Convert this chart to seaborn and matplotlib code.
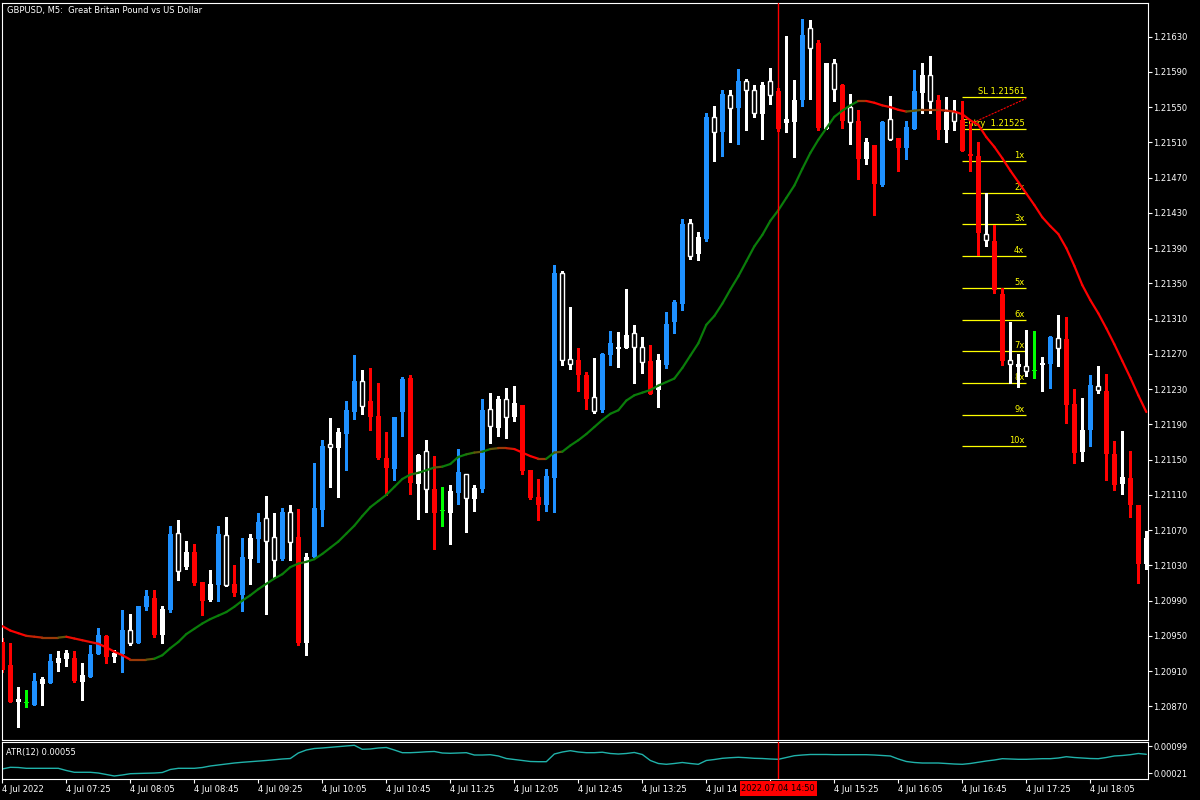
import numpy as np
import pandas as pd
import matplotlib
matplotlib.use("Agg")
import matplotlib.pyplot as plt
import matplotlib.transforms as mtransforms
import seaborn as sns
from matplotlib.collections import LineCollection
from matplotlib.patches import Rectangle
from matplotlib.colors import to_rgb

# ------------------------------------------------------------------ data
title = "GBPUSD, M5:  Great Britan Pound vs US Dollar"

# candle colour class: R red, B blue, W white filled, H white hollow, G green doji
kinds = list("RRWGBWBWWR" "WBBRWBHBBR" "WBHWRRWBHR" "BWBHHBHRWB" "BHWBBHRRRB"
             "BRWHRGWBHW" "BHWHWRRRBB" "HHRRHBBWWH" "HRWBBBHWBH" "BHBHHWHRWW"
             "BHRWHRHRWR" "BHRBBWHRWH" "RRRHRRHWHG" "WBHRRWBHRR" "WRRW")

open_ = [1.20943, 1.20917, 1.20875, 1.20874, 1.20872, 1.20895, 1.20897, 1.20919, 1.20924, 1.20925,
         1.20898, 1.20903, 1.20929, 1.20950, 1.20926, 1.20929, 1.20942, 1.20942, 1.20983, 1.20993,
         1.20951, 1.20979, 1.21024, 1.21028, 1.21045, 1.21011, 1.20991, 1.21008, 1.21008, 1.21009,
         1.20996, 1.21037, 1.21060, 1.21058, 1.21036, 1.21037, 1.21057, 1.21062, 1.20942, 1.21039,
         1.21093, 1.21164, 1.21163, 1.21179, 1.21204, 1.21211, 1.21217, 1.21200, 1.21152, 1.21139,
         1.21204, 1.21243, 1.21122, 1.21117, 1.21117, 1.21092, 1.21089, 1.21112, 1.21107, 1.21105,
         1.21117, 1.21188, 1.21186, 1.21198, 1.21198, 1.21212, 1.21138, 1.21108, 1.21099, 1.21129,
         1.21263, 1.21259, 1.21263, 1.21246, 1.21205, 1.21206, 1.21269, 1.21276, 1.21277, 1.21278,
         1.21261, 1.21262, 1.21229, 1.21257, 1.21306, 1.21327, 1.21381, 1.21383, 1.21400, 1.21522,
         1.21522, 1.21549, 1.21549, 1.21570, 1.21543, 1.21542, 1.21564, 1.21568, 1.21532, 1.21533,
         1.21558, 1.21617, 1.21623, 1.21525, 1.21571, 1.21575, 1.21533, 1.21534, 1.21491, 1.21507,
         1.21462, 1.21514, 1.21515, 1.21504, 1.21525, 1.21566, 1.21557, 1.21558, 1.21524, 1.21534,
         1.21535, 1.21497, 1.21495, 1.21399, 1.21398, 1.21338, 1.21259, 1.21255, 1.21251, 1.21251,
         1.21257, 1.21258, 1.21277, 1.21287, 1.21213, 1.21159, 1.21184, 1.21229, 1.21228, 1.21156,
         1.21122, 1.21129, 1.21099, 1.21032]

close = [1.20911, 1.20875, 1.20878, 1.20874, 1.20899, 1.20901, 1.20922, 1.20925, 1.20931, 1.20899,
         1.20905, 1.20929, 1.20951, 1.20926, 1.20931, 1.20957, 1.20957, 1.20984, 1.20995, 1.20951,
         1.20981, 1.21066, 1.21067, 1.21045, 1.21010, 1.20989, 1.21009, 1.21066, 1.21065, 1.20999,
         1.21040, 1.21061, 1.21079, 1.21084, 1.21062, 1.21091, 1.21091, 1.20942, 1.21040, 1.21095,
         1.21166, 1.21168, 1.21181, 1.21206, 1.21239, 1.21239, 1.21198, 1.21152, 1.21141, 1.21198,
         1.21242, 1.21124, 1.21155, 1.21160, 1.21089, 1.21092, 1.21114, 1.21136, 1.21134, 1.21118,
         1.21206, 1.21208, 1.21219, 1.21219, 1.21214, 1.21137, 1.21107, 1.21099, 1.21131, 1.21362,
         1.21362, 1.21264, 1.21246, 1.21219, 1.21221, 1.21270, 1.21282, 1.21278, 1.21291, 1.21294,
         1.21278, 1.21225, 1.21263, 1.21304, 1.21329, 1.21417, 1.21419, 1.21403, 1.21539, 1.21539,
         1.21565, 1.21564, 1.21580, 1.21580, 1.21570, 1.21575, 1.21580, 1.21525, 1.21537, 1.21558,
         1.21632, 1.21640, 1.21526, 1.21600, 1.21600, 1.21534, 1.21550, 1.21491, 1.21511, 1.21463,
         1.21533, 1.21537, 1.21504, 1.21527, 1.21568, 1.21586, 1.21586, 1.21524, 1.21545, 1.21545,
         1.21500, 1.21495, 1.21407, 1.21406, 1.21343, 1.21262, 1.21263, 1.21258, 1.21256, 1.21251,
         1.21260, 1.21289, 1.21288, 1.21212, 1.21158, 1.21184, 1.21235, 1.21234, 1.21156, 1.21121,
         1.21130, 1.21098, 1.21032, 1.21061]

high = [1.20948, 1.20942, 1.20892, 1.20889, 1.20908, 1.20903, 1.20929, 1.20933, 1.20934, 1.20933,
        1.20919, 1.20940, 1.20959, 1.20951, 1.20934, 1.20979, 1.20975, 1.20984, 1.21002, 1.21002,
        1.20984, 1.21075, 1.21082, 1.21058, 1.21054, 1.21011, 1.21025, 1.21075, 1.21085, 1.21030,
        1.21061, 1.21066, 1.21089, 1.21109, 1.21089, 1.21095, 1.21099, 1.21094, 1.21044, 1.21146,
        1.21172, 1.21197, 1.21186, 1.21217, 1.21269, 1.21252, 1.21254, 1.21237, 1.21181, 1.21198,
        1.21244, 1.21246, 1.21156, 1.21172, 1.21154, 1.21119, 1.21121, 1.21162, 1.21134, 1.21121,
        1.21219, 1.21226, 1.21222, 1.21231, 1.21234, 1.21212, 1.21138, 1.21128, 1.21139, 1.21371,
        1.21364, 1.21323, 1.21277, 1.21250, 1.21265, 1.21271, 1.21296, 1.21295, 1.21344, 1.21303,
        1.21289, 1.21280, 1.21270, 1.21318, 1.21331, 1.21423, 1.21423, 1.21408, 1.21543, 1.21551,
        1.21570, 1.21570, 1.21593, 1.21582, 1.21575, 1.21579, 1.21594, 1.21572, 1.21631, 1.21581,
        1.21650, 1.21649, 1.21626, 1.21600, 1.21605, 1.21576, 1.21565, 1.21547, 1.21515, 1.21507,
        1.21534, 1.21563, 1.21515, 1.21534, 1.21592, 1.21600, 1.21608, 1.21564, 1.21561, 1.21558,
        1.21557, 1.21531, 1.21510, 1.21453, 1.21416, 1.21345, 1.21306, 1.21270, 1.21297, 1.21296,
        1.21267, 1.21290, 1.21314, 1.21312, 1.21230, 1.21220, 1.21246, 1.21256, 1.21247, 1.21171,
        1.21182, 1.21160, 1.21099, 1.21069]

low = [1.20909, 1.20875, 1.20846, 1.20869, 1.20872, 1.20872, 1.20896, 1.20910, 1.20916, 1.20898,
       1.20877, 1.20903, 1.20929, 1.20919, 1.20920, 1.20909, 1.20940, 1.20942, 1.20979, 1.20949,
       1.20942, 1.20977, 1.21013, 1.21026, 1.21008, 1.20974, 1.20990, 1.20990, 1.21007, 1.20995,
       1.20978, 1.21009, 1.21034, 1.20975, 1.21017, 1.21036, 1.21036, 1.20940, 1.20928, 1.21039,
       1.21075, 1.21119, 1.21108, 1.21138, 1.21196, 1.21202, 1.21184, 1.21151, 1.21110, 1.21127,
       1.21177, 1.21111, 1.21083, 1.21091, 1.21049, 1.21075, 1.21054, 1.21100, 1.21068, 1.21092,
       1.21113, 1.21169, 1.21177, 1.21175, 1.21194, 1.21134, 1.21105, 1.21082, 1.21092, 1.21091,
       1.21257, 1.21253, 1.21228, 1.21208, 1.21203, 1.21204, 1.21257, 1.21255, 1.21277, 1.21237,
       1.21248, 1.21225, 1.21210, 1.21254, 1.21294, 1.21320, 1.21378, 1.21377, 1.21398, 1.21489,
       1.21495, 1.21511, 1.21508, 1.21524, 1.21539, 1.21514, 1.21554, 1.21523, 1.21522, 1.21493,
       1.21551, 1.21559, 1.21524, 1.21525, 1.21557, 1.21526, 1.21508, 1.21469, 1.21486, 1.21428,
       1.21460, 1.21513, 1.21477, 1.21491, 1.21525, 1.21543, 1.21543, 1.21514, 1.21510, 1.21524,
       1.21500, 1.21477, 1.21382, 1.21392, 1.21339, 1.21257, 1.21237, 1.21232, 1.21245, 1.21243,
       1.21228, 1.21231, 1.21256, 1.21192, 1.21146, 1.21148, 1.21166, 1.21226, 1.21127, 1.21115,
       1.21111, 1.21085, 1.21010, 1.21026]

ma = [1.20961, 1.20956, 1.20953, 1.20950, 1.20949, 1.20948, 1.20948, 1.20948, 1.20949, 1.20947,
      1.20945, 1.20943, 1.20941, 1.20937, 1.20932, 1.20928, 1.20923, 1.20923, 1.20923, 1.20924,
      1.20928, 1.20936, 1.20943, 1.20952, 1.20958, 1.20964, 1.20969, 1.20973, 1.20977, 1.20983,
      1.20990, 1.20996, 1.21003, 1.21009, 1.21015, 1.21020, 1.21028, 1.21032, 1.21034, 1.21037,
      1.21043, 1.21050, 1.21057, 1.21066, 1.21075, 1.21086, 1.21096, 1.21103, 1.21110, 1.21119,
      1.21128, 1.21133, 1.21135, 1.21138, 1.21141, 1.21142, 1.21145, 1.21153, 1.21156, 1.21158,
      1.21159, 1.21162, 1.21163, 1.21163, 1.21162, 1.21158, 1.21154, 1.21151, 1.21151, 1.21158,
      1.21159, 1.21166, 1.21172, 1.21179, 1.21187, 1.21195, 1.21202, 1.21206, 1.21217, 1.21223,
      1.21226, 1.21229, 1.21234, 1.21238, 1.21242, 1.21254, 1.21268, 1.21282, 1.21303, 1.21313,
      1.21327, 1.21343, 1.21358, 1.21375, 1.21392, 1.21405, 1.21421, 1.21433, 1.21447, 1.21461,
      1.21480, 1.21498, 1.21513, 1.21526, 1.21539, 1.21546, 1.21552, 1.21557, 1.21557, 1.21555,
      1.21552, 1.21550, 1.21547, 1.21545, 1.21546, 1.21547, 1.21547, 1.21547, 1.21546, 1.21545,
      1.21542, 1.21535, 1.21530, 1.21516, 1.21505, 1.21492, 1.21478, 1.21465, 1.21452, 1.21439,
      1.21425, 1.21415, 1.21406, 1.21390, 1.21370, 1.21348, 1.21331, 1.21316, 1.21299, 1.21281,
      1.21262, 1.21243, 1.21223, 1.21204]

atr = [0.000340, 0.000389, 0.000383, 0.000360, 0.000360, 0.000360, 0.000360, 0.000360, 0.000297, 0.000245,
       0.000245, 0.000245, 0.000224, 0.000181, 0.000138, 0.000167, 0.000204, 0.000210, 0.000216, 0.000224,
       0.000239, 0.000326, 0.000360, 0.000360, 0.000360, 0.000383, 0.000427, 0.000456, 0.000484, 0.000513,
       0.000534, 0.000551, 0.000571, 0.000586, 0.000609, 0.000629, 0.000643, 0.000802, 0.000889, 0.000932,
       0.000947, 0.000967, 0.000990, 0.001004, 0.001025, 0.000909, 0.000918, 0.000947, 0.000961, 0.000889,
       0.000811, 0.000811, 0.000822, 0.000837, 0.000846, 0.000802, 0.000794, 0.000802, 0.000811, 0.000744,
       0.000744, 0.000753, 0.000716, 0.000643, 0.000614, 0.000586, 0.000557, 0.000551, 0.000551, 0.000773,
       0.000831, 0.000869, 0.000831, 0.000811, 0.000811, 0.000825, 0.000788, 0.000773, 0.000788, 0.000817,
       0.000759, 0.000586, 0.000499, 0.000476, 0.000499, 0.000528, 0.000499, 0.000476, 0.000586, 0.000614,
       0.000649, 0.000666, 0.000678, 0.000666, 0.000649, 0.000643, 0.000629, 0.000620, 0.000672, 0.000724,
       0.000744, 0.000759, 0.000759, 0.000759, 0.000753, 0.000753, 0.000753, 0.000753, 0.000753, 0.000744,
       0.000730, 0.000716, 0.000629, 0.000557, 0.000528, 0.000513, 0.000513, 0.000513, 0.000499, 0.000484,
       0.000476, 0.000499, 0.000534, 0.000571, 0.000600, 0.000638, 0.000629, 0.000620, 0.000620, 0.000629,
       0.000638, 0.000638, 0.000658, 0.000695, 0.000672, 0.000658, 0.000643, 0.000638, 0.000672, 0.000716,
       0.000730, 0.000753, 0.000788, 0.000765]

# time axis labels (the one under the crosshair box is hidden; 14:05 is cut by it)
time_labels = ["4 Jul 2022", "4 Jul 07:25", "4 Jul 08:05", "4 Jul 08:45", "4 Jul 09:25",
               "4 Jul 10:05", "4 Jul 10:45", "4 Jul 11:25", "4 Jul 12:05", "4 Jul 12:45",
               "4 Jul 13:25", "4 Jul 14", "4 Jul 15:25", "4 Jul 16:05",
               "4 Jul 16:45", "4 Jul 17:25", "4 Jul 18:05"]
time_label_idx = [0, 8, 16, 24, 32, 40, 48, 56, 64, 72, 80, 88, 104, 112, 120, 128, 136]
hidden_tick_idx = [96]

price_ticks = [1.20870, 1.20910, 1.20950, 1.20990, 1.21030, 1.21070, 1.21110, 1.21150, 1.21190,
               1.21230, 1.21270, 1.21310, 1.21350, 1.21390, 1.21430, 1.21470, 1.21510, 1.21550,
               1.21590, 1.21630]
atr_ticks = [0.00021, 0.00099]

level_names = ["SL 1.21561", "Entry  1.21525", "1x", "2x", "3x", "4x", "5x", "6x", "7x", "8x", "9x", "10x"]
level_prices = [1.21561, 1.21525, 1.21489, 1.21453, 1.21417, 1.21381, 1.21345, 1.21309,
                1.21273, 1.21237, 1.21201, 1.21165]
level_start_idx = 120
level_end_idx = 128

trade_idx = [121, 128]
trade_price = [1.21531, 1.21560]

cross_idx = 97
cross_label = "2022.07.04 14:50"
atr_label = "ATR(12) 0.00055"

# ------------------------------------------------------------------ style
sns.set_theme(style="dark", rc={
    "figure.facecolor": "black", "axes.facecolor": "black", "axes.edgecolor": "white",
    "text.color": "white", "xtick.color": "white", "ytick.color": "white",
    "axes.grid": False, "axes.linewidth": 0.8,
})
plt.rcParams["font.family"] = ["DejaVu Sans"]
FS = 6

df = pd.DataFrame({"idx": np.arange(len(open_)), "open": open_, "high": high, "low": low,
                   "close": close, "kind": kinds, "ma": ma, "atr": atr})

W, H = 1200, 800
fig = plt.figure(figsize=(12, 8), dpi=100, facecolor="black")
ax = fig.add_axes([2 / W, 60 / H, 1146 / W, 737 / H])
ax2 = fig.add_axes([2 / W, 21 / H, 1146 / W, 37 / H])

XLIM = (-0.04, 143.21)
YLIM = (1.208318, 1.216682)
ATR_LIM = (0.0000511, 0.00112)
ax.set_xlim(*XLIM)
ax.set_ylim(*YLIM)
ax2.set_xlim(*XLIM)
ax2.set_ylim(*ATR_LIM)

px = (YLIM[1] - YLIM[0]) / 737.0

face = {"R": "#ff0000", "B": "#1e90ff", "W": "#ffffff", "H": "#000000", "G": "#00ff00"}
edge = {"R": "#ff0000", "B": "#1e90ff", "W": "#ffffff", "H": "#ffffff", "G": "#00ff00"}

# wicks
ax.vlines(df["idx"], df["low"], df["high"], colors=[edge[k] for k in df["kind"]],
          linewidth=1.0, zorder=2, antialiased=False)

# bodies
bot = np.minimum(df["open"], df["close"])
top = np.maximum(df["open"], df["close"])
hgt = np.maximum(top - bot, px)
is_h = df["kind"] == "H"
is_g = df["kind"] == "G"
normal = ~(is_h | is_g)
ax.bar(df["idx"][normal], hgt[normal], bottom=bot[normal], width=0.62,
       color=[face[k] for k in df["kind"][normal]], edgecolor="none", zorder=3, antialiased=False)
ax.bar(df["idx"][is_h], hgt[is_h], bottom=bot[is_h], width=0.5,
       color="black", edgecolor="white", linewidth=1.0, zorder=3)
ax.bar(df["idx"][is_g], px, bottom=bot[is_g] - px / 2, width=0.62,
       color="#00ff00", edgecolor="none", zorder=3, antialiased=False)

# moving average coloured by slope
red = np.array(to_rgb("#ff0000"))
brown = np.array(to_rgb("#9a3a08"))
green = np.array(to_rgb("#0a7d0a"))
mav = df["ma"].to_numpy()
slope = np.diff(mav) * 1e5
seg_cols = []
for s in slope:
    t = float(np.clip(s / 2.5, -1, 1))
    c = brown + (green - brown) * t if t >= 0 else brown + (red - brown) * (-t)
    seg_cols.append(c)
pts = np.column_stack([df["idx"].to_numpy(), mav])
segs = np.stack([pts[:-1], pts[1:]], axis=1)
ax.add_collection(LineCollection(segs, colors=seg_cols, linewidths=1.6, zorder=4, capstyle="round"))

# trade line
sns.lineplot(x=trade_idx, y=trade_price, ax=ax, color="#ff0000", linewidth=0.8,
             dashes=False, zorder=4)
ax.lines[-1].set_dashes((2, 1))

# levels
ax.hlines(level_prices, level_start_idx, level_end_idx, colors="#ffff00", linewidth=0.9, zorder=1.5)
off = mtransforms.offset_copy(ax.transData, fig=fig, x=-2, y=3, units="dots")
for name, p in zip(level_names, level_prices):
    ax.text(level_end_idx, p, name, transform=off, ha="right", va="baseline",
            color="#ffff00", fontsize=FS, zorder=1.6)

# crosshair
ax.axvline(cross_idx, color="#ff0000", linewidth=1.0, zorder=5)
ax2.axvline(cross_idx, color="#ff0000", linewidth=1.0, zorder=5)

# ATR
sns.lineplot(x=df["idx"], y=df["atr"], ax=ax2, color="#20b2aa", linewidth=1.0)
ax2.set_xlabel("")
ax2.set_ylabel("")
ax.set_xlabel("")
ax.set_ylabel("")

# axes / ticks
for a in (ax, ax2):
    for sp in a.spines.values():
        sp.set_color("white")
        sp.set_linewidth(0.8)
        sp.set_visible(True)

ax.yaxis.tick_right()
ax.set_yticks(price_ticks)
ax.set_yticklabels([f"{v:.5f}" for v in price_ticks])
ax.tick_params(axis="y", right=True, left=False, labelright=True, labelleft=False,
               length=3, width=0.8, pad=1, labelsize=FS, colors="white", direction="out")
ax.tick_params(axis="x", bottom=False, labelbottom=False)
ax.set_ylim(*YLIM)

ax2.yaxis.tick_right()
ax2.set_yticks(atr_ticks)
ax2.set_yticklabels([f"{v:.5f}" for v in atr_ticks])
ax2.tick_params(axis="y", right=True, left=False, labelright=True, labelleft=False,
                length=3, width=0.8, pad=1, labelsize=FS, colors="white", direction="out")
ax2.set_ylim(*ATR_LIM)
ax2.set_xticks(time_label_idx)
ax2.set_xticklabels(time_labels)
ax2.set_xticks(hidden_tick_idx, minor=True)
ax2.tick_params(axis="x", which="both", bottom=True, length=3, width=0.8, pad=1.2, labelsize=FS,
                colors="white", direction="out")
for lbl in ax2.get_xticklabels():
    lbl.set_horizontalalignment("left")
ax2.set_xlim(*XLIM)

# texts
fig.text(7 / W, 1 - 10 / H, title, color="white", fontsize=FS, va="center", ha="left")
fig.text(6 / W, 1 - 752 / H, atr_label, color="white", fontsize=FS, va="center", ha="left")

# crosshair time label
fig.canvas.draw()
xpix = ax.transData.transform((cross_idx, YLIM[0]))[0]
bw = 77
fig.patches.append(Rectangle(((xpix - bw / 2) / W, 1 - 796 / H), bw / W, 15 / H,
                             transform=fig.transFigure, facecolor="#ff0000",
                             edgecolor="none", zorder=10))
fig.text(xpix / W, 1 - 788.5 / H, cross_label, color="black", fontsize=FS,
         ha="center", va="center", zorder=11)

fig.savefig("out.png", dpi=100, facecolor="black")
